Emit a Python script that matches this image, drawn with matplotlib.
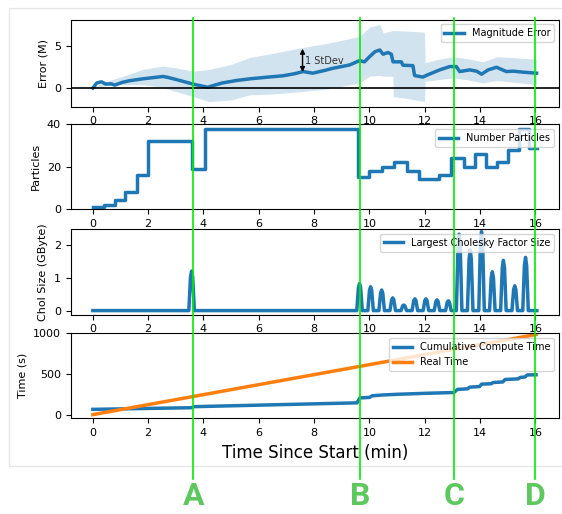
import matplotlib
matplotlib.use("Agg")
import matplotlib.pyplot as plt
from matplotlib.lines import Line2D
from matplotlib.patches import Rectangle

# ---- data ----
err_t = [0, 0.14, 0.31, 0.47, 0.66, 0.79, 1.05, 1.31, 1.82, 2.54, 2.73, 3.2,
         3.64, 4.15, 4.67, 5.2, 5.7, 6.35, 6.87, 7.3, 7.6, 7.95, 8.4, 8.68,
         9.28, 9.64, 9.82, 10.0, 10.2, 10.37, 10.49, 10.67, 10.79, 10.85,
         11.15, 11.21, 11.57, 11.63, 11.93, 12.1, 12.54, 12.9, 13.14, 13.26,
         13.62, 13.87, 14.05, 14.29, 14.59, 14.95, 15.19, 15.55, 16.04]
err_mean = [0.0, 0.6, 0.74, 0.47, 0.5, 0.35, 0.66, 0.86, 1.1, 1.37, 1.25, 0.85,
            0.45, 0.1, 0.6, 0.9, 1.1, 1.3, 1.45, 1.7, 1.95, 1.76, 2.1, 2.34,
            2.73, 3.24, 3.1, 3.7, 4.3, 4.5, 4.0, 4.2, 4.0, 3.1,
            3.1, 2.7, 2.65, 1.48, 1.3, 1.56, 2.15, 2.54, 2.54, 1.95,
            2.15, 2.0, 1.64, 2.15, 2.46, 1.95, 2.0, 1.88, 1.76]

band_t = [0, 0.5, 1.0, 1.8, 2.5, 3.0, 3.63, 4.2, 5.0, 5.66, 6.5, 7.6, 8.5,
          9.64, 10.0, 10.37, 10.5, 10.84, 10.86, 11.5, 11.99, 12.01, 12.5,
          13.0, 13.5, 14.1, 14.6, 15.2, 16.04]
band_hi = [0.1, 0.8, 1.3, 2.2, 2.6, 2.4, 2.0, 2.2, 2.8, 3.6, 4.1, 4.8, 5.3,
           6.1, 7.2, 7.5, 6.5, 6.8, 6.8, 6.7, 6.6, 3.0, 3.4,
           3.7, 3.5, 3.1, 3.7, 3.6, 3.4]
band_lo = [0.0, 0.3, 0.4, 0.4, 0.1, -0.4, -1.0, -1.6, -1.4, -0.8, -0.7, -0.4,
           -0.1, 0.6, 1.4, 1.5, 1.4, 1.4, -1.0, -1.3, -1.6, 0.8, 1.0,
           1.2, 1.0, 0.6, 0.9, 0.7, 0.4]

part_t = [0, 0.4, 0.8, 1.15, 1.6, 2.0, 3.6, 4.05, 9.6, 10.0, 10.45, 10.9,
          11.35, 11.8, 12.5, 12.95, 13.4, 13.8, 14.2, 14.6, 15.0, 15.4,
          15.75, 16.05]
part_n = [1, 2, 4, 8, 16, 32, 19, 38, 15, 18, 20, 22,
          18, 14, 16, 24, 20, 26, 20, 22, 28, 38,
          29, 29]

chol_peak_t = [3.57, 9.64, 10.04, 10.44, 10.84, 11.24, 11.64, 12.04, 12.44,
               12.85, 13.24, 13.64, 14.05, 14.44, 14.84, 15.25, 15.64]
chol_peak_gb = [1.21, 0.83, 0.73, 0.63, 0.39, 0.17, 0.36, 0.36, 0.33,
                0.30, 2.34, 1.86, 2.42, 1.19, 1.54, 0.76, 1.63]
chol_end = 16.05

comp_t = [0, 3.55, 3.65, 9.55, 9.65, 10.0, 10.1, 10.5, 11.0, 12.0, 13.05,
          13.18, 13.55, 13.62, 13.98, 14.05, 14.4, 14.47, 14.82, 14.9,
          15.38, 15.45, 15.62, 15.7, 16.02]
comp_s = [65, 85, 98, 145, 205, 212, 232, 242, 250, 262, 272,
          310, 318, 338, 345, 375, 380, 395, 402, 432,
          440, 458, 462, 488, 490]

real_t = [0, 16.02]
real_s = [0, 985]

events = ["A", "B", "C", "D"]
event_t = [3.63, 9.65, 13.07, 15.98]

# ---- figure ----
W, H = 562, 514
fig = plt.figure(figsize=(W / 100, H / 100), dpi=100)

fig.patches.append(Rectangle((9 / W, 1 - 466 / H), 1.0, (466 - 8) / H,
                             transform=fig.transFigure, fill=False,
                             edgecolor="#e6e6e6", lw=1.0, clip_on=False))

left, width = 70.7 / W, (559 - 70.7) / W
tops = [19.5, 124.3, 229, 333.3]
bots = [106.7, 209.3, 314.5, 418.3]
axes = [fig.add_axes([left, 1 - b / H, width, (b - t) / H])
        for t, b in zip(tops, bots)]
ax1, ax2, ax3, ax4 = axes

blue, orange = "#1f77b4", "#ff7f0e"
lw = 2.5

# panel 1: magnitude error
ax1.fill_between(band_t, band_lo, band_hi, color=blue, alpha=0.2, lw=0)
ax1.plot(err_t, err_mean, color=blue, lw=lw, label="Magnitude Error")
ax1.axhline(0, color="black", lw=1.2)
ax1.set_ylim(-2.2, 8.1)
ax1.set_yticks([0, 5])
ax1.set_ylabel("Error (M)", fontsize=8)
ax1.annotate("", xy=(7.58, 4.65), xytext=(7.58, 1.9),
             arrowprops=dict(arrowstyle="<|-|>", color="black", lw=1.0,
                             mutation_scale=7, shrinkA=0, shrinkB=0))
ax1.text(7.68, 3.25, "1 StDev", fontsize=7, va="center", color="#333333")

# panel 2: particles
ax2.plot(part_t, part_n, color=blue, lw=lw, drawstyle="steps-post",
         label="Number Particles")
ax2.set_ylim(-0.2, 40)
ax2.set_yticks([0, 20, 40])
ax2.set_ylabel("Particles", fontsize=8)

# panel 3: cholesky spikes
ct, cv = [0], [0]
for tp, h in zip(chol_peak_t, chol_peak_gb):
    ct += [tp - 0.1, tp - 0.04, tp, tp + 0.04, tp + 0.1]
    cv += [0, 0.85 * h, h, 0.85 * h, 0]
ct.append(chol_end)
cv.append(0)
ax3.plot(ct, cv, color=blue, lw=lw, label="Largest Cholesky Factor Size")
ax3.set_ylim(-0.12, 2.5)
ax3.set_yticks([0, 1, 2])
ax3.set_ylabel("Chol Size (GByte)", fontsize=8)

# panel 4: compute time
ax4.plot(comp_t, comp_s, color=blue, lw=lw, label="Cumulative Compute Time")
ax4.plot(real_t, real_s, color=orange, lw=lw, label="Real Time")
ax4.set_ylim(-45, 1000)
ax4.set_yticks([0, 500, 1000])
ax4.set_ylabel("Time (s)", fontsize=8)
ax4.set_xlabel("Time Since Start (min)", fontsize=12)

for ax in axes:
    ax.set_xlim(-0.8, 16.85)
    ax.set_xticks(range(0, 17, 2))
    ax.tick_params(labelsize=8)
    ax.legend(loc="upper right", fontsize=7)

# event markers spanning the whole figure
inv = fig.transFigure.inverted()
for name, t in zip(events, event_t):
    x = inv.transform(ax1.transData.transform((t, 0)))[0]
    fig.add_artist(Line2D([x, x], [1 - 479 / H, 1 - 18 / H],
                          transform=fig.transFigure, color="#00ee00", lw=1.2))
    fig.text(x, 1 - 496 / H, name, ha="center", va="center", fontsize=23,
             fontweight="bold", color="#5ec85e", family=["Roboto", "DejaVu Sans"])

fig.savefig("out.png", dpi=100)
